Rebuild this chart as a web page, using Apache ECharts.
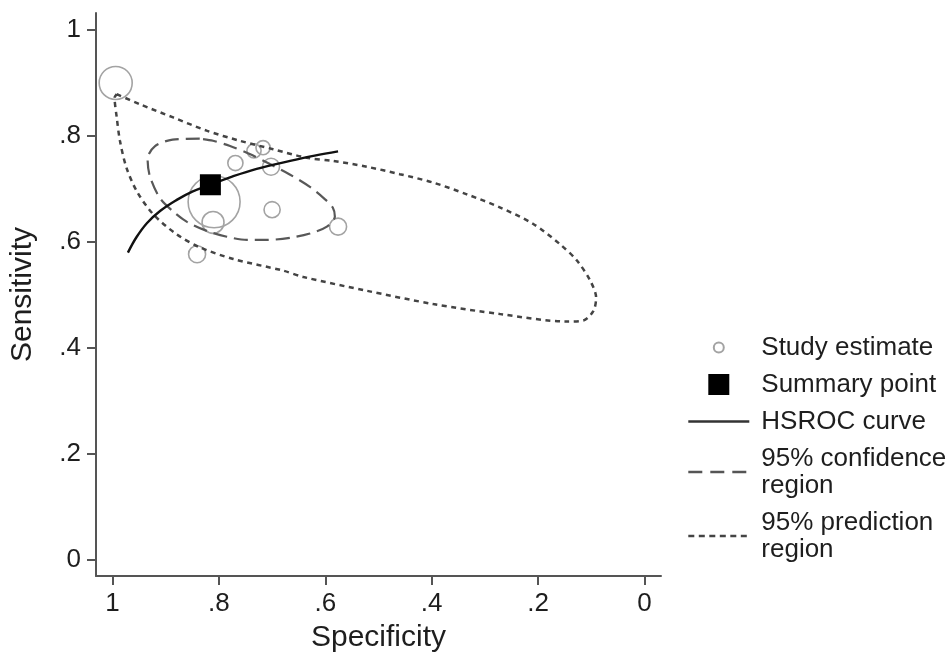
<!DOCTYPE html>
<html><head><meta charset="utf-8">
<script src="https://cdn.jsdelivr.net/npm/echarts@6/dist/echarts.min.js"></script>
<style>html,body{margin:0;padding:0;background:#fff}#c{width:947px;height:659px}</style>
</head><body><div id="c"></div>
<script>
// ---- data (specificity, sensitivity) ----
const tickValues = [0, 0.2, 0.4, 0.6, 0.8, 1];
const tickLabels = ['0', '.2', '.4', '.6', '.8', '1'];

const studySpec = [0.994, 0.769, 0.734, 0.717, 0.702, 0.809, 0.811, 0.700, 0.576, 0.841];
const studySens = [0.899, 0.748, 0.771, 0.777, 0.741, 0.675, 0.636, 0.660, 0.628, 0.576];
const studyWeight = [10.9, 2.3, 2.0, 2.0, 2.9, 27.0, 4.8, 2.6, 2.9, 2.9];

const summarySpec = [0.816];
const summarySens = [0.707];

const hsrocSpec = [0.971, 0.955, 0.935, 0.910, 0.880, 0.850, 0.816, 0.779, 0.729, 0.666, 0.620, 0.576];
const hsrocSens = [0.579, 0.608, 0.635, 0.658, 0.678, 0.694, 0.707, 0.721, 0.737, 0.752, 0.762, 0.770];

const confSpec = [0.836, 0.887, 0.920, 0.934, 0.930, 0.911, 0.883, 0.860, 0.823, 0.785, 0.747, 0.710, 0.666, 0.629, 0.597, 0.582, 0.586, 0.601, 0.629, 0.666, 0.704, 0.742, 0.779, 0.811, 0.836];
const confSens = [0.794, 0.792, 0.780, 0.756, 0.724, 0.682, 0.654, 0.637, 0.620, 0.609, 0.603, 0.603, 0.607, 0.615, 0.628, 0.647, 0.664, 0.680, 0.703, 0.726, 0.746, 0.765, 0.780, 0.790, 0.794];

const predSpec = [0.992, 0.949, 0.886, 0.823, 0.761, 0.698, 0.635, 0.585, 0.522, 0.460, 0.397, 0.334, 0.271, 0.209, 0.159, 0.127, 0.102, 0.091, 0.096, 0.115, 0.146, 0.271, 0.397, 0.522, 0.641, 0.679, 0.773, 0.836, 0.880, 0.924, 0.955, 0.974, 0.986, 0.992, 0.996, 0.992];
const predSens = [0.878, 0.859, 0.834, 0.809, 0.790, 0.774, 0.758, 0.752, 0.741, 0.727, 0.711, 0.689, 0.664, 0.633, 0.595, 0.564, 0.526, 0.494, 0.469, 0.451, 0.449, 0.463, 0.482, 0.507, 0.533, 0.545, 0.567, 0.589, 0.614, 0.652, 0.696, 0.740, 0.790, 0.834, 0.871, 0.878];

const names = ['Study estimate', 'Summary point', 'HSROC curve', '95% confidence\nregion', '95% prediction\nregion'];

// ---- build ----
const zip = (a, b) => a.map((v, i) => [v, b[i]]);
const FONT = '"Liberation Sans", Arial, sans-serif';
const AXIS_COLOR = '#555';
const TEXT_COLOR = '#1e1e1e';
const labelFmt = v => {
  let best = 0;
  tickValues.forEach((t, i) => { if (Math.abs(t - v) < Math.abs(tickValues[best] - v)) best = i; });
  return tickLabels[best];
};

function makeAxis(name, inverse, nameGap) {
  return {
    type: 'value', min: -0.031, max: 1.031, inverse: inverse,
    name: name, nameLocation: 'middle', nameGap: nameGap,
    nameTextStyle: { fontSize: 30, color: TEXT_COLOR, fontFamily: FONT },
    axisLine: { show: true, onZero: false, lineStyle: { color: AXIS_COLOR, width: 2 } },
    axisTick: { show: true, customValues: tickValues, length: 9, lineStyle: { color: AXIS_COLOR, width: 2 } },
    axisLabel: { customValues: tickValues, formatter: labelFmt, fontSize: 26, color: TEXT_COLOR, fontFamily: FONT, margin: 15 },
    splitLine: { show: false }
  };
}

const circleIcon = 'path://M0,0M61,21M35.5,10.5A5,5,0,1,1,25.5,10.5A5,5,0,1,1,35.5,10.5Z';
const squareIcon = 'path://M0,0M61,21M20,0L41,0L41,21L20,21Z';
const hiddenSymbol = { color: 'rgba(0,0,0,0)', borderColor: 'rgba(0,0,0,0)', borderWidth: 0, opacity: 0 };

const chart = echarts.init(document.getElementById('c'), null, { renderer: 'canvas' });
chart.setOption({
  backgroundColor: '#fff',
  animation: false,
  grid: { left: 96, top: 13, width: 565, height: 563, containLabel: false },
  xAxis: makeAxis('Specificity', true, 47),
  yAxis: makeAxis('Sensitivity', false, 58),
  legend: {
    orient: 'vertical', left: 682, top: 329,
    itemWidth: 61, itemHeight: 21, itemGap: 10,
    selectedMode: false,
    textStyle: { fontSize: 26, lineHeight: 27, color: TEXT_COLOR, fontFamily: FONT, padding: [0, 0, 0, 7] },
    data: [
      { name: names[0], icon: circleIcon },
      { name: names[1], icon: squareIcon },
      { name: names[2], itemStyle: hiddenSymbol, lineStyle: { width: 2.6, color: '#333' } },
      { name: names[3], itemStyle: hiddenSymbol, lineStyle: { width: 2.6, color: '#555', type: [14, 8] } },
      { name: names[4], itemStyle: hiddenSymbol, lineStyle: { width: 2.6, color: '#444', type: [6, 4.5] } }
    ]
  },
  series: [
    {
      name: names[0], type: 'scatter', z: 2,
      data: zip(studySpec, studySens),
      symbol: 'circle',
      symbolSize: (v, p) => 10 * Math.sqrt(studyWeight[p.dataIndex]),
      itemStyle: { color: 'rgba(0,0,0,0)', borderColor: '#a3a3a3', borderWidth: 1.6, opacity: 1 }
    },
    {
      name: names[4], type: 'line', z: 3, color: '#444',
      data: zip(predSpec, predSens), smooth: 0.3, symbol: 'none',
      lineStyle: { color: '#444', width: 2.5, type: [5, 4.5] }
    },
    {
      name: names[3], type: 'line', z: 3, color: '#585858',
      data: zip(confSpec, confSens), smooth: 0.3, symbol: 'none',
      lineStyle: { color: '#585858', width: 2.2, type: [14, 7] }
    },
    {
      name: names[2], type: 'line', z: 4, color: '#111',
      data: zip(hsrocSpec, hsrocSens), smooth: 0.4, symbol: 'none',
      lineStyle: { color: '#111', width: 2.4 }
    },
    {
      name: names[1], type: 'scatter', z: 5,
      data: zip(summarySpec, summarySens),
      symbol: 'rect', symbolSize: 21,
      itemStyle: { color: '#000', opacity: 1 }
    }
  ]
});
</script></body></html>
